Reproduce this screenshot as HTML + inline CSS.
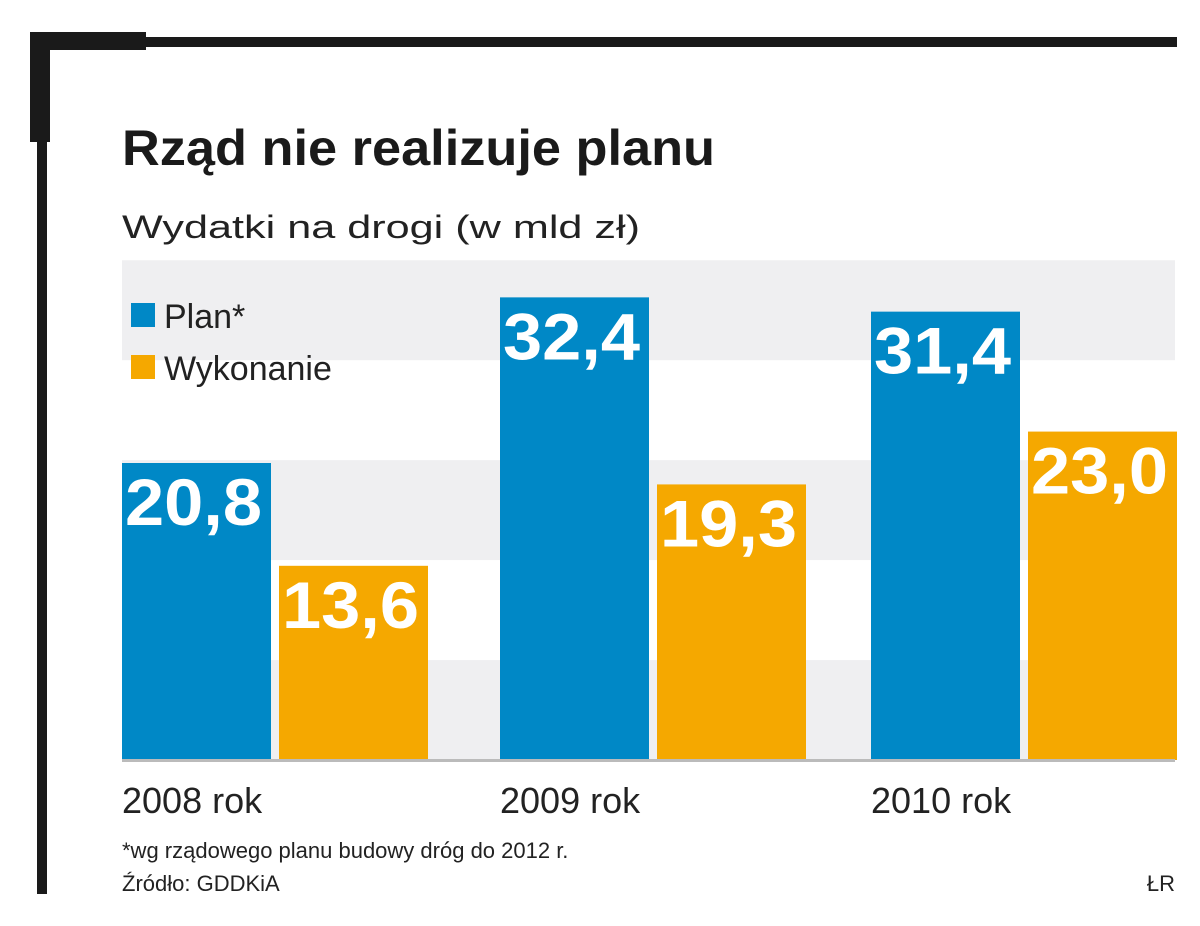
<!DOCTYPE html>
<html><head><meta charset="utf-8"><style>
body{margin:0;background:#fff;width:1200px;height:926px;overflow:hidden}
svg{display:block}
</style></head><body>
<svg width="1200" height="926" viewBox="0 0 1200 926">
<g>
<rect x="30" y="32" width="116" height="18" fill="#1a1a1a"/>
<rect x="30" y="32" width="20" height="110" fill="#1a1a1a"/>
<rect x="37" y="37" width="1140" height="10" fill="#1a1a1a"/>
<rect x="37" y="37" width="10" height="857" fill="#1a1a1a"/>
</g>
<text x="122" y="165" font-family="Liberation Sans Narrow, Liberation Sans, sans-serif" font-weight="bold" font-size="50" fill="#1a1a1a" textLength="593" lengthAdjust="spacingAndGlyphs">Rząd nie realizuje planu</text>
<text x="122" y="238" font-family="Liberation Sans, sans-serif" font-size="32" fill="#222" textLength="518" lengthAdjust="spacingAndGlyphs">Wydatki na drogi (w mld zł)</text>
<g id="bands"></g>
<g id="bars"></g>
<rect x="122" y="759" width="1053" height="3" fill="#bbb"/>
<g>
<rect x="131" y="303" width="24" height="24" fill="#0088c6"/>
<text x="164" y="328" font-family="Liberation Sans, sans-serif" font-size="34" fill="#222">Plan*</text>
<rect x="131" y="355" width="24" height="24" fill="#f5a800"/>
<text x="164" y="380" font-family="Liberation Sans, sans-serif" font-size="34" fill="#222">Wykonanie</text>
</g>
<g id="cats"></g>
<text x="122" y="858" font-family="Liberation Sans, sans-serif" font-size="22" fill="#222">*wg rządowego planu budowy dróg do 2012 r.</text>
<text x="122" y="891" font-family="Liberation Sans, sans-serif" font-size="22" fill="#222">Źródło: GDDKiA</text>
<text x="1175" y="891" text-anchor="end" font-family="Liberation Sans, sans-serif" font-size="22" fill="#222">ŁR</text>
</svg>
<script>
const categories=["2008 rok","2009 rok","2010 rok"];
const planValues=[20.8,32.4,31.4];
const execValues=[13.6,19.3,23.0];
const NS="http://www.w3.org/2000/svg";
const baseY=760, pxPerUnit=297/20.8;
const y=v=>baseY-v*pxPerUnit;
const groupX=[122,500,871];
function mk(tag,attrs,parent){const e=document.createElementNS(NS,tag);for(const k in attrs)e.setAttribute(k,attrs[k]);parent.appendChild(e);return e;}
const bands=document.getElementById('bands');
for(let i=0;i<5;i+=2){
  const b=mk('rect',{x:122,y:baseY-(i+1)*7*pxPerUnit,width:1053,height:7*pxPerUnit,fill:'#efeff1'},bands);
  
  
}
const bars=document.getElementById('bars'),cats=document.getElementById('cats');
categories.forEach((c,i)=>{
  [[planValues[i],'#0088c6',0,'bar-plan'],[execValues[i],'#f5a800',157,'bar-wykonanie']].forEach(([v,col,off,nm])=>{
    const x=groupX[i]+off;
    const r=mk('rect',{x:x,y:y(v),width:149,height:baseY-y(v),fill:col},bars);
    
    
    const t=mk('text',{x:x+3,y:y(v)+62,'font-family':'Liberation Sans Narrow, Liberation Sans, sans-serif','font-weight':'bold','font-size':'66',fill:'#fff',textLength:'137',lengthAdjust:'spacingAndGlyphs'},bars);
    t.textContent=v.toFixed(1).replace('.',',');
    
    
  });
  const t=mk('text',{x:groupX[i],y:813,'font-family':'Liberation Sans, sans-serif','font-size':'36',fill:'#222'},cats);
  t.textContent=c;
  
  
});
</script>
</body></html>
